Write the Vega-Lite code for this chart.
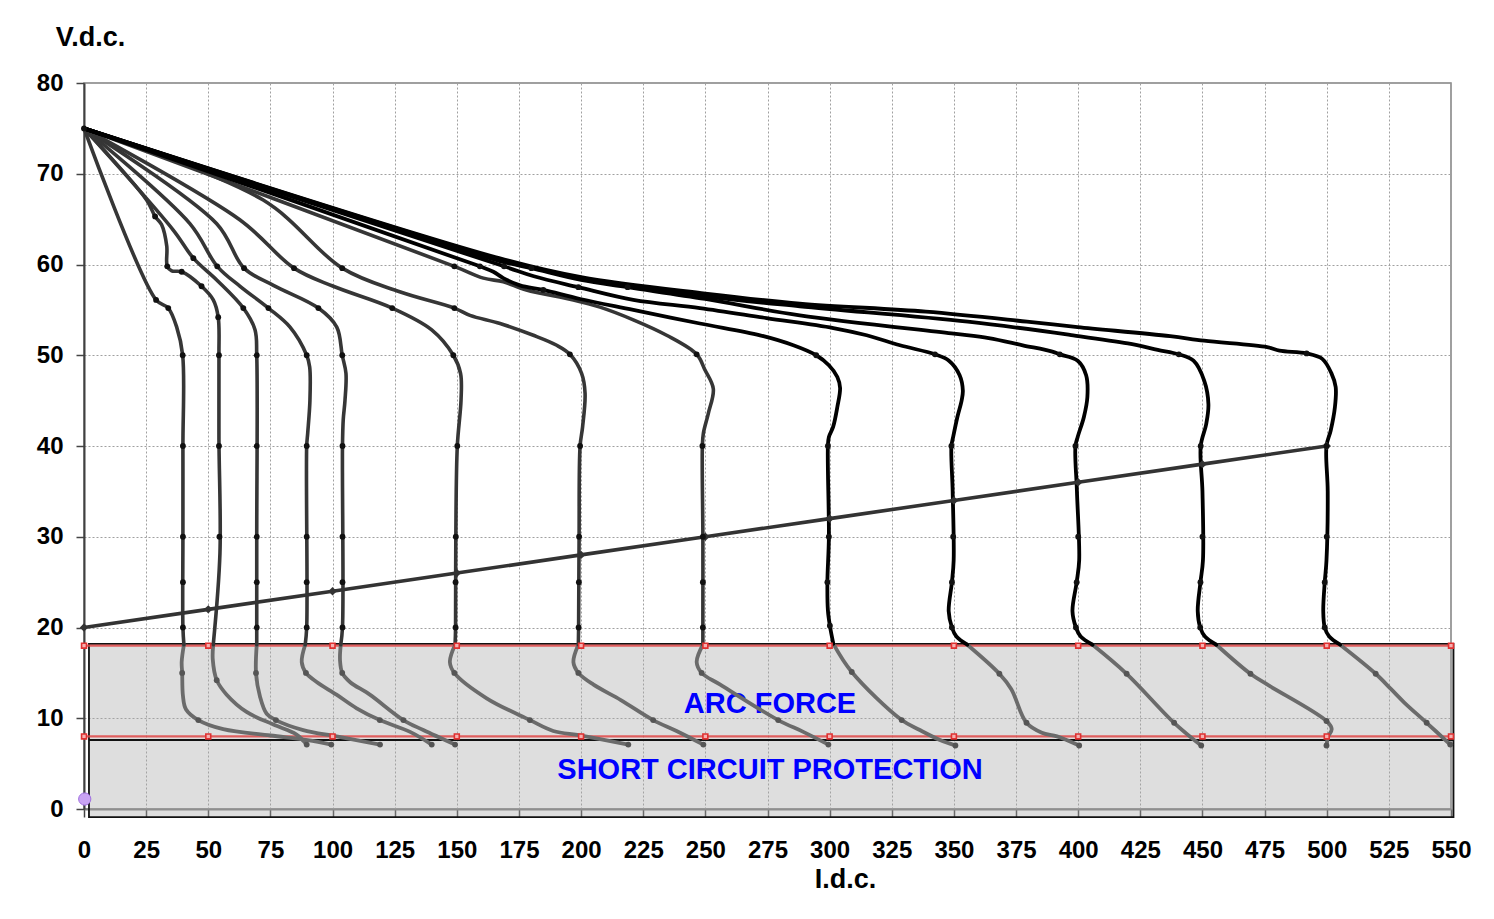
{
"$schema": "https://vega.github.io/schema/vega-lite/v6.json",
"width": 1367, "height": 726,
"autosize": {"type": "none"},
"padding": {"left": 84, "top": 83, "right": 43, "bottom": 110},
"background": "white",
"config": {"font": "Liberation Sans", "view": {"stroke": "#808080", "strokeWidth": 1.5}},
"datasets": {
"curves": [
{"c":40,"z":"u","k":0,"I":0,"V":75},{"c":40,"z":"u","k":1,"I":29,"V":56.1},{"c":40,"z":"u","k":2,"I":33.9,"V":55.2},{"c":40,"z":"u","k":3,"I":37.3,"V":53.1},{"c":40,"z":"u","k":4,"I":39.7,"V":50},{"c":40,"z":"u","k":5,"I":39.8,"V":40},{"c":40,"z":"u","k":6,"I":39.8,"V":30},{"c":40,"z":"u","k":7,"I":39.8,"V":20},{"c":40,"z":"u","k":8,"I":40.2,"V":18.1},
{"c":40,"z":"l","k":0,"I":40.2,"V":18.1},{"c":40,"z":"l","k":1,"I":39.3,"V":16.2},{"c":40,"z":"l","k":2,"I":39.5,"V":15},{"c":40,"z":"l","k":3,"I":39.8,"V":12.5},{"c":40,"z":"l","k":4,"I":41,"V":11},{"c":40,"z":"l","k":5,"I":46,"V":9.8},{"c":40,"z":"l","k":6,"I":56,"V":8.8},{"c":40,"z":"l","k":7,"I":75,"V":8.1},{"c":40,"z":"l","k":8,"I":90,"V":7.6},{"c":40,"z":"l","k":9,"I":99.5,"V":7.1},
{"c":55,"z":"u","k":0,"I":0,"V":75},{"c":55,"z":"u","k":1,"I":25.2,"V":67.1},{"c":55,"z":"u","k":2,"I":28.6,"V":65.3},{"c":55,"z":"u","k":3,"I":31.2,"V":64.4},{"c":55,"z":"u","k":4,"I":33.3,"V":62},{"c":55,"z":"u","k":5,"I":33.5,"V":59.8},{"c":55,"z":"u","k":6,"I":35.3,"V":59.3},{"c":55,"z":"u","k":7,"I":39.3,"V":59.2},{"c":55,"z":"u","k":8,"I":47.3,"V":57.6},{"c":55,"z":"u","k":9,"I":52,"V":56.1},{"c":55,"z":"u","k":10,"I":54,"V":54.2},{"c":55,"z":"u","k":11,"I":54.3,"V":50},{"c":55,"z":"u","k":12,"I":54.3,"V":40.7},{"c":55,"z":"u","k":13,"I":54.7,"V":28.2},{"c":55,"z":"u","k":14,"I":52,"V":18.1},
{"c":55,"z":"l","k":0,"I":52,"V":18.1},{"c":55,"z":"l","k":1,"I":51.8,"V":16.5},{"c":55,"z":"l","k":2,"I":53.4,"V":14.2},{"c":55,"z":"l","k":3,"I":57.4,"V":12.6},{"c":55,"z":"l","k":4,"I":65.4,"V":10.7},{"c":55,"z":"l","k":5,"I":76.2,"V":9.3},{"c":55,"z":"l","k":6,"I":85.5,"V":8.2},{"c":55,"z":"l","k":7,"I":89.6,"V":7.1},
{"c":70,"z":"u","k":0,"I":0,"V":75},{"c":70,"z":"u","k":1,"I":35.9,"V":63.8},{"c":70,"z":"u","k":2,"I":44,"V":60.7},{"c":70,"z":"u","k":3,"I":53.4,"V":58.3},{"c":70,"z":"u","k":4,"I":64.1,"V":55.2},{"c":70,"z":"u","k":5,"I":68.8,"V":52.8},{"c":70,"z":"u","k":6,"I":69.5,"V":50},{"c":70,"z":"u","k":7,"I":69.5,"V":30},{"c":70,"z":"u","k":8,"I":69.5,"V":18.1},
{"c":70,"z":"l","k":0,"I":69.5,"V":18.1},{"c":70,"z":"l","k":1,"I":69.2,"V":15},{"c":70,"z":"l","k":2,"I":70.8,"V":12.4},{"c":70,"z":"l","k":3,"I":73.5,"V":10.5},{"c":70,"z":"l","k":4,"I":77.2,"V":9.8},{"c":70,"z":"l","k":5,"I":88.2,"V":8.7},{"c":70,"z":"l","k":6,"I":101.6,"V":8},{"c":70,"z":"l","k":7,"I":119.1,"V":7.1},
{"c":90,"z":"u","k":0,"I":0,"V":75},{"c":90,"z":"u","k":1,"I":42.6,"V":64.5},{"c":90,"z":"u","k":2,"I":53.6,"V":59.8},{"c":90,"z":"u","k":3,"I":62.8,"V":57.6},{"c":90,"z":"u","k":4,"I":74.2,"V":55.2},{"c":90,"z":"u","k":5,"I":82.9,"V":53.1},{"c":90,"z":"u","k":6,"I":89.6,"V":50},{"c":90,"z":"u","k":7,"I":90.8,"V":48.7},{"c":90,"z":"u","k":8,"I":90.9,"V":45},{"c":90,"z":"u","k":9,"I":90,"V":41.4},{"c":90,"z":"u","k":10,"I":89.6,"V":40},{"c":90,"z":"u","k":11,"I":89.6,"V":20},{"c":90,"z":"u","k":12,"I":89,"V":18.1},
{"c":90,"z":"l","k":0,"I":89,"V":18.1},{"c":90,"z":"l","k":1,"I":87.6,"V":16.2},{"c":90,"z":"l","k":2,"I":89.3,"V":15},{"c":90,"z":"l","k":3,"I":93.6,"V":14},{"c":90,"z":"l","k":4,"I":101.6,"V":12.6},{"c":90,"z":"l","k":5,"I":109.7,"V":11.1},{"c":90,"z":"l","k":6,"I":119,"V":9.8},{"c":90,"z":"l","k":7,"I":131.2,"V":8.5},{"c":90,"z":"l","k":8,"I":139.9,"V":7.1},
{"c":105,"z":"u","k":0,"I":0,"V":75},{"c":105,"z":"u","k":1,"I":53.4,"V":64.5},{"c":105,"z":"u","k":2,"I":64.4,"V":59.6},{"c":105,"z":"u","k":3,"I":76.2,"V":57.7},{"c":105,"z":"u","k":4,"I":94.3,"V":55.2},{"c":105,"z":"u","k":5,"I":101.7,"V":53.1},{"c":105,"z":"u","k":6,"I":103.9,"V":50},{"c":105,"z":"u","k":7,"I":105.4,"V":48},{"c":105,"z":"u","k":8,"I":105,"V":45},{"c":105,"z":"u","k":9,"I":104.3,"V":42.9},{"c":105,"z":"u","k":10,"I":104,"V":40},{"c":105,"z":"u","k":11,"I":104,"V":20},{"c":105,"z":"u","k":12,"I":103.3,"V":18.1},
{"c":105,"z":"l","k":0,"I":103.3,"V":18.1},{"c":105,"z":"l","k":1,"I":103,"V":16.4},{"c":105,"z":"l","k":2,"I":103.9,"V":15},{"c":105,"z":"l","k":3,"I":107,"V":14},{"c":105,"z":"l","k":4,"I":115,"V":12.6},{"c":105,"z":"l","k":5,"I":128.5,"V":9.8},{"c":105,"z":"l","k":6,"I":136.5,"V":8.7},{"c":105,"z":"l","k":7,"I":149.3,"V":7.1},
{"c":150,"z":"u","k":0,"I":0,"V":75},{"c":150,"z":"u","k":1,"I":62.8,"V":64.9},{"c":150,"z":"u","k":2,"I":84.5,"V":59.6},{"c":150,"z":"u","k":3,"I":100.3,"V":57.6},{"c":150,"z":"u","k":4,"I":124,"V":55.2},{"c":150,"z":"u","k":5,"I":139.9,"V":52.8},{"c":150,"z":"u","k":6,"I":148.6,"V":50},{"c":150,"z":"u","k":7,"I":151.5,"V":48},{"c":150,"z":"u","k":8,"I":151.7,"V":45.1},{"c":150,"z":"u","k":9,"I":150.2,"V":40},{"c":150,"z":"u","k":10,"I":149.6,"V":30},{"c":150,"z":"u","k":11,"I":149.5,"V":20},{"c":150,"z":"u","k":12,"I":149.3,"V":18.1},
{"c":150,"z":"l","k":0,"I":149.3,"V":18.1},{"c":150,"z":"l","k":1,"I":147.2,"V":16.2},{"c":150,"z":"l","k":2,"I":149,"V":15},{"c":150,"z":"l","k":3,"I":162,"V":12.2},{"c":150,"z":"l","k":4,"I":179.4,"V":9.8},{"c":150,"z":"l","k":5,"I":188.8,"V":8.6},{"c":150,"z":"l","k":6,"I":199.6,"V":8.1},{"c":150,"z":"l","k":7,"I":219,"V":7.1},
{"c":200,"z":"u","k":0,"I":0,"V":75},{"c":200,"z":"u","k":1,"I":72.1,"V":67.1},{"c":200,"z":"u","k":2,"I":103.9,"V":59.6},{"c":200,"z":"u","k":3,"I":127,"V":57},{"c":200,"z":"u","k":4,"I":149,"V":55.2},{"c":200,"z":"u","k":5,"I":155.3,"V":54.4},{"c":200,"z":"u","k":6,"I":167.4,"V":53.5},{"c":200,"z":"u","k":7,"I":180.8,"V":52.2},{"c":200,"z":"u","k":8,"I":190.2,"V":51.1},{"c":200,"z":"u","k":9,"I":195.5,"V":50.1},{"c":200,"z":"u","k":10,"I":200.2,"V":48},{"c":200,"z":"u","k":11,"I":201.6,"V":45.8},{"c":200,"z":"u","k":12,"I":200.6,"V":42.1},{"c":200,"z":"u","k":13,"I":199.6,"V":40},{"c":200,"z":"u","k":14,"I":199.2,"V":30},{"c":200,"z":"u","k":15,"I":199,"V":20},{"c":200,"z":"u","k":16,"I":198.9,"V":18.1},
{"c":200,"z":"l","k":0,"I":198.9,"V":18.1},{"c":200,"z":"l","k":1,"I":196.9,"V":16.2},{"c":200,"z":"l","k":2,"I":198.9,"V":15},{"c":200,"z":"l","k":3,"I":205,"V":13.7},{"c":200,"z":"l","k":4,"I":216,"V":12},{"c":200,"z":"l","k":5,"I":229,"V":9.8},{"c":200,"z":"l","k":6,"I":238.4,"V":8.6},{"c":200,"z":"l","k":7,"I":249.2,"V":7.1},
{"c":250,"z":"u","k":0,"I":0,"V":75},{"c":250,"z":"u","k":1,"I":149,"V":59.8},{"c":250,"z":"u","k":2,"I":160.7,"V":58.5},{"c":250,"z":"u","k":3,"I":168.7,"V":58.1},{"c":250,"z":"u","k":4,"I":178,"V":57.2},{"c":250,"z":"u","k":5,"I":196.9,"V":56.1},{"c":250,"z":"u","k":6,"I":207.6,"V":55.3},{"c":250,"z":"u","k":7,"I":221,"V":53.9},{"c":250,"z":"u","k":8,"I":234.4,"V":52.2},{"c":250,"z":"u","k":9,"I":246.5,"V":50.1},{"c":250,"z":"u","k":10,"I":249.8,"V":48.4},{"c":250,"z":"u","k":11,"I":253.2,"V":46.3},{"c":250,"z":"u","k":12,"I":251.2,"V":43.6},{"c":250,"z":"u","k":13,"I":249.2,"V":41.4},{"c":250,"z":"u","k":14,"I":248.8,"V":40},{"c":250,"z":"u","k":15,"I":249,"V":30},{"c":250,"z":"u","k":16,"I":249,"V":20},{"c":250,"z":"u","k":17,"I":249,"V":18.1},
{"c":250,"z":"l","k":0,"I":249,"V":18.1},{"c":250,"z":"l","k":1,"I":246.5,"V":16.2},{"c":250,"z":"l","k":2,"I":248.5,"V":15},{"c":250,"z":"l","k":3,"I":256,"V":13.7},{"c":250,"z":"l","k":4,"I":279.3,"V":9.8},{"c":250,"z":"l","k":5,"I":289.4,"V":8.5},{"c":250,"z":"l","k":6,"I":299.5,"V":7.1},
{"c":300,"z":"u","k":0,"I":0,"V":75},{"c":300,"z":"u","k":1,"I":159.3,"V":59.8},{"c":300,"z":"u","k":2,"I":164.7,"V":59.2},{"c":300,"z":"u","k":3,"I":168.7,"V":58.5},{"c":300,"z":"u","k":4,"I":175.4,"V":57.7},{"c":300,"z":"u","k":5,"I":184.8,"V":57.2},{"c":300,"z":"u","k":6,"I":199.6,"V":56.2},{"c":300,"z":"u","k":7,"I":221,"V":55},{"c":300,"z":"u","k":8,"I":247.8,"V":53.5},{"c":300,"z":"u","k":9,"I":272,"V":52.2},{"c":300,"z":"u","k":10,"I":285.4,"V":51.1},{"c":300,"z":"u","k":11,"I":294.6,"V":50},{"c":300,"z":"u","k":12,"I":299.7,"V":48.9},{"c":300,"z":"u","k":13,"I":303.1,"V":47.6},{"c":300,"z":"u","k":14,"I":304.2,"V":46.4},{"c":300,"z":"u","k":15,"I":303.1,"V":44.3},{"c":300,"z":"u","k":16,"I":301.4,"V":42.1},{"c":300,"z":"u","k":17,"I":299.7,"V":41},{"c":300,"z":"u","k":18,"I":299.3,"V":40},{"c":300,"z":"u","k":19,"I":299.7,"V":30},{"c":300,"z":"u","k":20,"I":299.1,"V":25},{"c":300,"z":"u","k":21,"I":299.3,"V":21.9},{"c":300,"z":"u","k":22,"I":300.1,"V":20.2},{"c":300,"z":"u","k":23,"I":301.5,"V":18.2},
{"c":300,"z":"l","k":0,"I":301.5,"V":18.2},{"c":300,"z":"l","k":1,"I":308.9,"V":15.1},{"c":300,"z":"l","k":2,"I":329,"V":9.8},{"c":300,"z":"l","k":3,"I":336.3,"V":8.7},{"c":300,"z":"l","k":4,"I":344.4,"V":7.6},{"c":300,"z":"l","k":5,"I":350.6,"V":7},
{"c":350,"z":"u","k":0,"I":0,"V":75},{"c":350,"z":"u","k":1,"I":169,"V":59.8},{"c":350,"z":"u","k":2,"I":181,"V":58.7},{"c":350,"z":"u","k":3,"I":198.9,"V":57.5},{"c":350,"z":"u","k":4,"I":221,"V":56.1},{"c":350,"z":"u","k":5,"I":247.8,"V":55.2},{"c":350,"z":"u","k":6,"I":274.6,"V":54.1},{"c":350,"z":"u","k":7,"I":301.5,"V":53},{"c":350,"z":"u","k":8,"I":314.9,"V":52.2},{"c":350,"z":"u","k":9,"I":328.3,"V":51.1},{"c":350,"z":"u","k":10,"I":342.4,"V":50.1},{"c":350,"z":"u","k":11,"I":348,"V":49.4},{"c":350,"z":"u","k":12,"I":352.3,"V":47.8},{"c":350,"z":"u","k":13,"I":353.6,"V":46.1},{"c":350,"z":"u","k":14,"I":353.1,"V":45},{"c":350,"z":"u","k":15,"I":351.4,"V":43.2},{"c":350,"z":"u","k":16,"I":349.7,"V":41},{"c":350,"z":"u","k":17,"I":349,"V":40},{"c":350,"z":"u","k":18,"I":349.5,"V":35},{"c":350,"z":"u","k":19,"I":349.9,"V":27.4},{"c":350,"z":"u","k":20,"I":349.2,"V":25},{"c":350,"z":"u","k":21,"I":347.9,"V":21.8},{"c":350,"z":"u","k":22,"I":349.2,"V":20},{"c":350,"z":"u","k":23,"I":351,"V":19},{"c":350,"z":"u","k":24,"I":355.4,"V":18.1},
{"c":350,"z":"l","k":0,"I":355.4,"V":18.1},{"c":350,"z":"l","k":1,"I":368.3,"V":14.9},{"c":350,"z":"l","k":2,"I":373.1,"V":13.2},{"c":350,"z":"l","k":3,"I":379.2,"V":9.5},{"c":350,"z":"l","k":4,"I":385.4,"V":8.4},{"c":350,"z":"l","k":5,"I":391.5,"V":8},{"c":350,"z":"l","k":6,"I":400.4,"V":7},
{"c":400,"z":"u","k":0,"I":0,"V":75},{"c":400,"z":"u","k":1,"I":167,"V":60.4},{"c":400,"z":"u","k":2,"I":180,"V":59.6},{"c":400,"z":"u","k":3,"I":200,"V":58.3},{"c":400,"z":"u","k":4,"I":218.7,"V":57.5},{"c":400,"z":"u","k":5,"I":250,"V":56.2},{"c":400,"z":"u","k":6,"I":288,"V":54.4},{"c":400,"z":"u","k":7,"I":349,"V":52.4},{"c":400,"z":"u","k":8,"I":364,"V":51.9},{"c":400,"z":"u","k":9,"I":377.7,"V":51.1},{"c":400,"z":"u","k":10,"I":389.6,"V":50.4},{"c":400,"z":"u","k":11,"I":392.6,"V":50.1},{"c":400,"z":"u","k":12,"I":399.8,"V":49.4},{"c":400,"z":"u","k":13,"I":403.2,"V":47.8},{"c":400,"z":"u","k":14,"I":403.7,"V":45.4},{"c":400,"z":"u","k":15,"I":402.3,"V":43.2},{"c":400,"z":"u","k":16,"I":399.8,"V":41},{"c":400,"z":"u","k":17,"I":398.9,"V":40},{"c":400,"z":"u","k":18,"I":399.5,"V":35},{"c":400,"z":"u","k":19,"I":400.4,"V":27.4},{"c":400,"z":"u","k":20,"I":399.4,"V":25},{"c":400,"z":"u","k":21,"I":397.7,"V":21.8},{"c":400,"z":"u","k":22,"I":399.1,"V":20},{"c":400,"z":"u","k":23,"I":401,"V":19},{"c":400,"z":"u","k":24,"I":405.8,"V":18.1},
{"c":400,"z":"l","k":0,"I":405.8,"V":18.1},{"c":400,"z":"l","k":1,"I":419.5,"V":14.9},{"c":400,"z":"l","k":2,"I":438.6,"V":9.5},{"c":400,"z":"l","k":3,"I":449.5,"V":7},
{"c":450,"z":"u","k":0,"I":0,"V":75},{"c":450,"z":"u","k":1,"I":167,"V":60.6},{"c":450,"z":"u","k":2,"I":200,"V":58.5},{"c":450,"z":"u","k":3,"I":250,"V":56.5},{"c":450,"z":"u","k":4,"I":288,"V":55.4},{"c":450,"z":"u","k":5,"I":355.6,"V":53.7},{"c":450,"z":"u","k":6,"I":398,"V":52.2},{"c":450,"z":"u","k":7,"I":420,"V":51.3},{"c":450,"z":"u","k":8,"I":432,"V":50.6},{"c":450,"z":"u","k":9,"I":440.5,"V":50.1},{"c":450,"z":"u","k":10,"I":446.4,"V":49.4},{"c":450,"z":"u","k":11,"I":450.7,"V":47.2},{"c":450,"z":"u","k":12,"I":452.4,"V":44.6},{"c":450,"z":"u","k":13,"I":451.5,"V":42.4},{"c":450,"z":"u","k":14,"I":449.3,"V":40},{"c":450,"z":"u","k":15,"I":450,"V":35},{"c":450,"z":"u","k":16,"I":450.2,"V":27.4},{"c":450,"z":"u","k":17,"I":449.2,"V":25},{"c":450,"z":"u","k":18,"I":448.1,"V":21.8},{"c":450,"z":"u","k":19,"I":449.1,"V":20},{"c":450,"z":"u","k":20,"I":451,"V":19},{"c":450,"z":"u","k":21,"I":455.6,"V":18.1},
{"c":450,"z":"l","k":0,"I":455.6,"V":18.1},{"c":450,"z":"l","k":1,"I":469.3,"V":14.9},{"c":450,"z":"l","k":2,"I":476.8,"V":13.6},{"c":450,"z":"l","k":3,"I":499.9,"V":9.7},{"c":450,"z":"l","k":4,"I":502,"V":8.8},{"c":450,"z":"l","k":5,"I":500.6,"V":8},{"c":450,"z":"l","k":6,"I":499.9,"V":7},
{"c":500,"z":"u","k":0,"I":0,"V":75},{"c":500,"z":"u","k":1,"I":167,"V":60.7},{"c":500,"z":"u","k":2,"I":200,"V":58.6},{"c":500,"z":"u","k":3,"I":250,"V":56.8},{"c":500,"z":"u","k":4,"I":288,"V":55.7},{"c":500,"z":"u","k":5,"I":338.7,"V":54.8},{"c":500,"z":"u","k":6,"I":379.4,"V":53.7},{"c":500,"z":"u","k":7,"I":399.8,"V":53.1},{"c":500,"z":"u","k":8,"I":437,"V":52.1},{"c":500,"z":"u","k":9,"I":450.7,"V":51.6},{"c":500,"z":"u","k":10,"I":476,"V":50.9},{"c":500,"z":"u","k":11,"I":481,"V":50.5},{"c":500,"z":"u","k":12,"I":491.9,"V":50.2},{"c":500,"z":"u","k":13,"I":498.2,"V":49.6},{"c":500,"z":"u","k":14,"I":501.9,"V":48},{"c":500,"z":"u","k":15,"I":503.6,"V":46.5},{"c":500,"z":"u","k":16,"I":503.3,"V":44.3},{"c":500,"z":"u","k":17,"I":501.6,"V":41.7},{"c":500,"z":"u","k":18,"I":499.9,"V":40},{"c":500,"z":"u","k":19,"I":500.4,"V":35},{"c":500,"z":"u","k":20,"I":499.9,"V":27.4},{"c":500,"z":"u","k":21,"I":499.2,"V":25},{"c":500,"z":"u","k":22,"I":498.6,"V":21.8},{"c":500,"z":"u","k":23,"I":499.2,"V":20},{"c":500,"z":"u","k":24,"I":501,"V":19},{"c":500,"z":"u","k":25,"I":505.4,"V":18.1},
{"c":500,"z":"l","k":0,"I":505.4,"V":18.1},{"c":500,"z":"l","k":1,"I":519.7,"V":14.9},{"c":500,"z":"l","k":2,"I":525.9,"V":13.2},{"c":500,"z":"l","k":3,"I":531.3,"V":11.7},{"c":500,"z":"l","k":4,"I":540.2,"V":9.5},{"c":500,"z":"l","k":5,"I":549.7,"V":7.1}
],
"points": [
{"z":"u","I":0,"V":75},
{"z":"u","I":29,"V":56.1},{"z":"u","I":33.9,"V":55.2},{"z":"u","I":39.7,"V":50},{"z":"u","I":39.8,"V":40},{"z":"u","I":39.8,"V":30},{"z":"u","I":39.8,"V":25},{"z":"u","I":39.8,"V":20},
{"z":"u","I":28.6,"V":65.3},{"z":"u","I":33.5,"V":59.8},{"z":"u","I":39.3,"V":59.2},{"z":"u","I":47.3,"V":57.6},{"z":"u","I":54,"V":54.2},{"z":"u","I":54.3,"V":50},{"z":"u","I":54.3,"V":40},{"z":"u","I":54.5,"V":30},
{"z":"u","I":44,"V":60.7},{"z":"u","I":64.1,"V":55.2},{"z":"u","I":69.5,"V":50},{"z":"u","I":69.5,"V":40},{"z":"u","I":69.5,"V":30},{"z":"u","I":69.5,"V":25},{"z":"u","I":69.5,"V":20},
{"z":"u","I":53.6,"V":59.8},{"z":"u","I":74.2,"V":55.2},{"z":"u","I":89.6,"V":50},{"z":"u","I":89.6,"V":40},{"z":"u","I":89.6,"V":30},{"z":"u","I":89.6,"V":25},{"z":"u","I":89.6,"V":20},
{"z":"u","I":64.4,"V":59.6},{"z":"u","I":94.3,"V":55.2},{"z":"u","I":103.9,"V":50},{"z":"u","I":104,"V":40},{"z":"u","I":104,"V":30},{"z":"u","I":104,"V":25},{"z":"u","I":104,"V":20},
{"z":"u","I":84.5,"V":59.6},{"z":"u","I":124,"V":55.2},{"z":"u","I":148.6,"V":50},{"z":"u","I":150.2,"V":40},{"z":"u","I":149.6,"V":30},{"z":"u","I":149.5,"V":25},{"z":"u","I":149.5,"V":20},
{"z":"u","I":103.9,"V":59.6},{"z":"u","I":149,"V":55.2},{"z":"u","I":195.5,"V":50.1},{"z":"u","I":199.6,"V":40},{"z":"u","I":199.2,"V":30},{"z":"u","I":199.1,"V":25},{"z":"u","I":199,"V":20},
{"z":"u","I":149,"V":59.8},{"z":"u","I":246.5,"V":50.1},{"z":"u","I":248.8,"V":40},{"z":"u","I":249,"V":30},{"z":"u","I":249,"V":25},{"z":"u","I":249,"V":20},
{"z":"u","I":159.3,"V":59.8},{"z":"u","I":184.8,"V":57.2},{"z":"u","I":294.6,"V":50},{"z":"u","I":299.3,"V":40},{"z":"u","I":299.7,"V":30},{"z":"u","I":299.1,"V":25},{"z":"u","I":300.1,"V":20.2},
{"z":"u","I":169,"V":59.8},{"z":"u","I":198.9,"V":57.5},{"z":"u","I":342.4,"V":50.1},{"z":"u","I":349,"V":40},{"z":"u","I":349.7,"V":30},{"z":"u","I":349.2,"V":25},{"z":"u","I":349.2,"V":20},
{"z":"u","I":180,"V":59.6},{"z":"u","I":218.7,"V":57.5},{"z":"u","I":392.6,"V":50.1},{"z":"u","I":398.9,"V":40},{"z":"u","I":400,"V":30},{"z":"u","I":399.4,"V":25},{"z":"u","I":399.1,"V":20},
{"z":"u","I":440.5,"V":50.1},{"z":"u","I":449.3,"V":40},{"z":"u","I":450,"V":30},{"z":"u","I":449.2,"V":25},{"z":"u","I":449.1,"V":20},
{"z":"u","I":491.9,"V":50.2},{"z":"u","I":499.9,"V":40},{"z":"u","I":500,"V":30},{"z":"u","I":499.2,"V":25},{"z":"u","I":499.2,"V":20},
{"z":"l","I":39.5,"V":15},{"z":"l","I":46,"V":9.8},{"z":"l","I":99.5,"V":7.1},
{"z":"l","I":53.4,"V":14.2},{"z":"l","I":89.6,"V":7.1},
{"z":"l","I":69.2,"V":15},{"z":"l","I":77.2,"V":9.8},{"z":"l","I":119.1,"V":7.1},
{"z":"l","I":89.3,"V":15},{"z":"l","I":119,"V":9.8},{"z":"l","I":139.9,"V":7.1},
{"z":"l","I":103.9,"V":15},{"z":"l","I":128.5,"V":9.8},{"z":"l","I":149.3,"V":7.1},
{"z":"l","I":149,"V":15},{"z":"l","I":179.4,"V":9.8},{"z":"l","I":219,"V":7.1},
{"z":"l","I":198.9,"V":15},{"z":"l","I":229,"V":9.8},{"z":"l","I":249.2,"V":7.1},
{"z":"l","I":248.5,"V":15},{"z":"l","I":279.3,"V":9.8},{"z":"l","I":299.5,"V":7.1},
{"z":"l","I":308.9,"V":15.1},{"z":"l","I":329,"V":9.8},{"z":"l","I":350.6,"V":7},
{"z":"l","I":368.3,"V":14.9},{"z":"l","I":379.2,"V":9.5},{"z":"l","I":400.4,"V":7},
{"z":"l","I":419.5,"V":14.9},{"z":"l","I":438.6,"V":9.5},{"z":"l","I":449.5,"V":7},
{"z":"l","I":469.3,"V":14.9},{"z":"l","I":499.9,"V":9.7},{"z":"l","I":499.9,"V":7},
{"z":"l","I":519.7,"V":14.9},{"z":"l","I":540.2,"V":9.5},{"z":"l","I":549.7,"V":7.1}
],
"load": [
{"I":0,"V":20},{"I":50,"V":22},{"I":100,"V":24},{"I":150,"V":26},{"I":200,"V":28},{"I":250,"V":30},{"I":300,"V":32},{"I":350,"V":34},{"I":400,"V":36},{"I":450,"V":38},{"I":500,"V":40}
],
"limits": [
{"I":0,"V":18},{"I":50,"V":18},{"I":100,"V":18},{"I":150,"V":18},{"I":200,"V":18},{"I":250,"V":18},{"I":300,"V":18},{"I":350,"V":18},{"I":400,"V":18},{"I":450,"V":18},{"I":500,"V":18},{"I":550,"V":18},
{"I":0,"V":8},{"I":50,"V":8},{"I":100,"V":8},{"I":150,"V":8},{"I":200,"V":8},{"I":250,"V":8},{"I":300,"V":8},{"I":350,"V":8},{"I":400,"V":8},{"I":450,"V":8},{"I":500,"V":8},{"I":550,"V":8}
],
"one": [{}]
},
"layer": [
{
"data": {"name": "load"},
"mark": {"type": "line", "opacity": 0},
"encoding": {
"x": {"field": "I", "type": "quantitative", "scale": {"domain": [0, 550], "nice": false, "zero": true},
"axis": {"values": [0,25,50,75,100,125,150,175,200,225,250,275,300,325,350,375,400,425,450,475,500,525,550],
"title": "I.d.c.", "titleX": 761, "titleY": 78, "titleAlign": "center", "titleBaseline": "alphabetic", "titleFontSize": 27, "titleFontWeight": "bold", "titleColor": "#000",
"labelFontSize": 24, "labelFontWeight": "bold", "labelColor": "#000", "labelPadding": 21, "labelFlush": false, "labelOverlap": false,
"tickSize": 8, "tickColor": "#444", "tickWidth": 1.5, "domainColor": "#808080", "domainWidth": 2,
"grid": true, "gridColor": "#a0a0a0", "gridDash": [2, 2], "gridWidth": 1}},
"y": {"field": "V", "type": "quantitative", "scale": {"domain": [0, 80], "nice": false},
"axis": {"values": [0,10,20,30,40,50,60,70,80],
"title": "V.d.c.", "titleAngle": 0, "titleX": 6, "titleY": -38, "titleAlign": "center", "titleBaseline": "alphabetic", "titleFontSize": 27, "titleFontWeight": "bold", "titleColor": "#000",
"labelFontSize": 24, "labelFontWeight": "bold", "labelColor": "#000", "labelPadding": 13, "labelFlush": false,
"tickSize": 8, "tickColor": "#444", "tickWidth": 1.5, "domainColor": "#404040", "domainWidth": 2,
"grid": true, "gridColor": "#a0a0a0", "gridDash": [2, 2], "gridWidth": 1}}
}
},
{
"data": {"name": "one"},
"mark": {"type": "rect", "fill": "#a8a8a8", "fillOpacity": 0.38, "stroke": "#111", "strokeWidth": 1.8},
"encoding": {
"x": {"datum": 2, "type": "quantitative"}, "x2": {"datum": 551},
"y": {"datum": -0.9, "type": "quantitative"}, "y2": {"datum": 18.2}
}
},
{
"data": {"values": [{"V": 18}, {"V": 8}]},
"mark": {"type": "rule", "color": "#e04848", "strokeWidth": 2.4, "opacity": 0.85},
"encoding": {
"x": {"datum": 0, "type": "quantitative"}, "x2": {"datum": 550},
"y": {"field": "V", "type": "quantitative"}
}
},
{
"data": {"name": "one"},
"mark": {"type": "rule", "color": "#111", "strokeWidth": 2},
"encoding": {
"x": {"datum": 2, "type": "quantitative"}, "x2": {"datum": 551},
"y": {"datum": 7.6, "type": "quantitative"}
}
},
{
"data": {"name": "one"},
"mark": {"type": "text", "text": "ARC FORCE", "font": "Liberation Sans", "fontSize": 29, "fontWeight": "bold", "color": "#0000ff", "align": "center", "baseline": "alphabetic"},
"encoding": {"x": {"datum": 276, "type": "quantitative"}, "y": {"datum": 10.55, "type": "quantitative"}}
},
{
"data": {"name": "one"},
"mark": {"type": "text", "text": "SHORT CIRCUIT PROTECTION", "font": "Liberation Sans", "fontSize": 29, "fontWeight": "bold", "color": "#0000ff", "align": "center", "baseline": "alphabetic"},
"encoding": {"x": {"datum": 276, "type": "quantitative"}, "y": {"datum": 3.31, "type": "quantitative"}}
},
{
"data": {"name": "curves"},
"transform": [{"filter": "datum.z == 'l'"}],
"mark": {"type": "line", "color": "#6b6b6b", "strokeWidth": 3.8, "interpolate": "catmull-rom", "strokeCap": "round", "strokeJoin": "round"},
"encoding": {
"x": {"field": "I", "type": "quantitative"},
"y": {"field": "V", "type": "quantitative"},
"detail": {"field": "c", "type": "nominal"},
"order": {"field": "k", "type": "quantitative"}
}
},
{
"data": {"name": "curves"},
"transform": [{"filter": "datum.z == 'u' && datum.c < 300"}],
"mark": {"type": "line", "color": "#363636", "strokeWidth": 3.6, "interpolate": "catmull-rom", "strokeCap": "round", "strokeJoin": "round"},
"encoding": {
"x": {"field": "I", "type": "quantitative"},
"y": {"field": "V", "type": "quantitative"},
"detail": {"field": "c", "type": "nominal"},
"order": {"field": "k", "type": "quantitative"}
}
},
{
"data": {"name": "curves"},
"transform": [{"filter": "datum.z == 'u' && datum.c >= 300"}],
"mark": {"type": "line", "color": "#000000", "strokeWidth": 3.8, "interpolate": "catmull-rom", "strokeCap": "round", "strokeJoin": "round"},
"encoding": {
"x": {"field": "I", "type": "quantitative"},
"y": {"field": "V", "type": "quantitative"},
"detail": {"field": "c", "type": "nominal"},
"order": {"field": "k", "type": "quantitative"}
}
},
{
"data": {"name": "load"},
"mark": {"type": "line", "color": "#333333", "strokeWidth": 3.6},
"encoding": {
"x": {"field": "I", "type": "quantitative"},
"y": {"field": "V", "type": "quantitative"}
}
},
{
"data": {"name": "load"},
"mark": {"type": "point", "shape": "diamond", "filled": true, "color": "#333333", "size": 70, "opacity": 1},
"encoding": {
"x": {"field": "I", "type": "quantitative"},
"y": {"field": "V", "type": "quantitative"}
}
},
{
"data": {"name": "points"},
"mark": {"type": "point", "shape": "circle", "filled": true, "size": 34, "opacity": 1},
"encoding": {
"x": {"field": "I", "type": "quantitative"},
"y": {"field": "V", "type": "quantitative"},
"color": {"field": "z", "type": "nominal", "scale": {"domain": ["u", "l"], "range": ["#111111", "#555555"]}, "legend": null}
}
},
{
"data": {"name": "limits"},
"mark": {"type": "point", "shape": "square", "filled": false, "size": 24, "stroke": "#e03030", "strokeWidth": 1.6, "fill": "#f4b0b0", "fillOpacity": 1, "opacity": 1},
"encoding": {
"x": {"field": "I", "type": "quantitative"},
"y": {"field": "V", "type": "quantitative"}
}
},
{
"data": {"name": "one"},
"mark": {"type": "point", "shape": "circle", "filled": true, "size": 150, "fill": "#c9a3f3", "stroke": "#a070e0", "strokeWidth": 1, "opacity": 1},
"encoding": {"x": {"datum": 0.3, "type": "quantitative"}, "y": {"datum": 1.1, "type": "quantitative"}}
}
]
}
